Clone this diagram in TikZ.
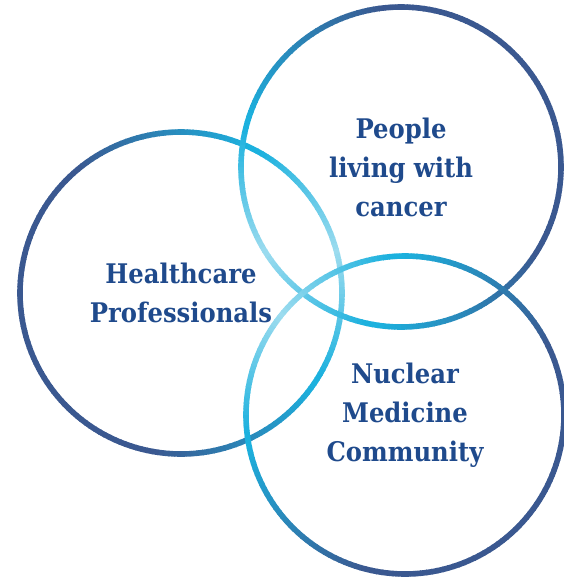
\documentclass[tikz,border=0pt]{standalone}
\usepackage{fontspec}
\setmainfont{DejaVu Serif Condensed}
\definecolor{ringpale}{HTML}{9CDCEF}
\definecolor{ringcyan}{HTML}{1CB1DE}
\definecolor{ringnavy}{HTML}{3A5890}
\definecolor{labelblue}{HTML}{1F4A8C}
\tikzset{
  venn/.style={inner sep=0pt, align=center, text=labelblue,
    font=\fontsize{27}{39}\selectfont\bfseries},
}
% ring whose colour runs from pale (towards #3) to navy (away from it)
\newcommand{\gradring}[3]{%
  \foreach \a in {0,2,...,358}{
    \pgfmathsetmacro\dd{abs(mod(\a-#3+540,360)-180)}
    \pgfmathsetmacro\pa{min(100,\dd*2.2)}
    \pgfmathsetmacro\pb{max(0,min(100,(\dd-50)/0.65))}
    \ifdim\dd pt<50pt \colorlet{segcol}{ringcyan!\pa!ringpale}\else\colorlet{segcol}{ringnavy!\pb!ringcyan}\fi
    \draw[segcol, line width=5.6pt]
      ([shift={(\a:#2)}]#1.center) arc[start angle=\a, end angle=\a+2.4, radius=#2];
  }%
}

\begin{document}
\begin{tikzpicture}[x=1pt, y=-1pt]
  \useasboundingbox (0,0) rectangle (564,579);
  \node[venn] (hcp) at (181,293) {Healthcare\\Professionals};
  \node[venn] (plwc) at (401,167) {People\\living with\\cancer};
  \node[venn] (nmc) at (405,415) {Nuclear\\Medicine\\Community};

  \gradring{hcp}{161}{344}
  \gradring{plwc}{160}{147}
  \gradring{nmc}{159}{218}
\end{tikzpicture}
\end{document}
